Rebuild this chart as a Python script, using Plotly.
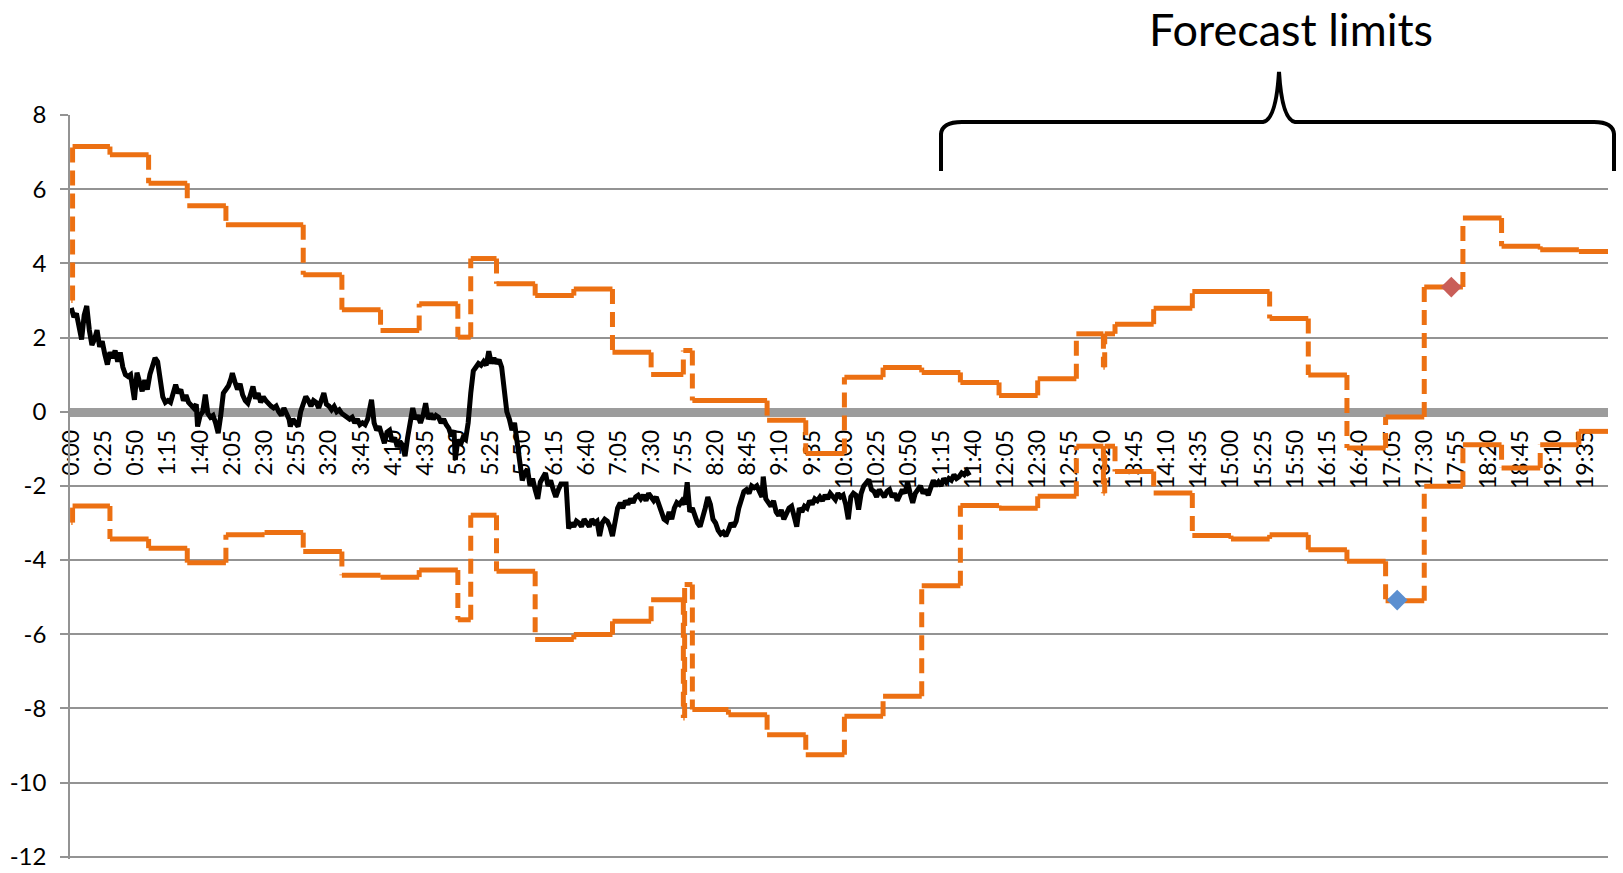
import plotly.graph_objects as go

# ---------------- data ----------------
tick_labels = ["0:00", "0:25", "0:50", "1:15", "1:40", "2:05", "2:30", "2:55", "3:20", "3:45",
               "4:10", "4:35", "5:00", "5:25", "5:50", "6:15", "6:40", "7:05", "7:30", "7:55",
               "8:20", "8:45", "9:10", "9:35", "10:00", "10:25", "10:50", "11:15", "11:40", "12:05",
               "12:30", "12:55", "13:20", "13:45", "14:10", "14:35", "15:00", "15:25", "15:50", "16:15",
               "16:40", "17:05", "17:30", "17:55", "18:20", "18:45", "19:10", "19:35"]
y_ticks = [8, 6, 4, 2, 0, -2, -4, -6, -8, -10, -12]
y_tick_labels = ["8", "6", "4", "2", "0", "-2", "-4", "-6", "-8", "-10", "-12"]

# step limits: start minute of each level and its value
upper_start = [0, 1, 30, 60, 90, 120, 180, 210, 240, 270, 300, 310, 330, 360, 390, 420, 450, 475, 482,
               540, 570, 600, 630, 660, 690, 720, 750, 780, 801, 802, 810, 840, 870, 930, 960, 990,
               1020, 1050, 1080, 1110, 1140, 1170]
upper_value = [3.0, 7.15, 6.93, 6.16, 5.55, 5.04, 3.69, 2.75, 2.19, 2.91, 2.01, 4.13, 3.45, 3.13, 3.31,
               1.60, 1.00, 1.65, 0.30, -0.23, -1.13, 0.93, 1.19, 1.06, 0.79, 0.44, 0.89, 2.10, 1.20,
               2.10, 2.36, 2.79, 3.24, 2.51, 0.99, -0.98, -0.14, 3.36, 5.22, 4.46, 4.37, 4.32]
lower_start = [0, 1, 30, 60, 90, 120, 150, 180, 210, 240, 270, 300, 310, 330, 360, 390, 420, 450, 475,
               476, 482, 510, 540, 570, 600, 630, 660, 690, 720, 750, 780, 801, 802, 810, 840, 870,
               900, 930, 960, 990, 1020, 1050, 1080, 1110, 1140, 1170]
lower_value = [-2.99, -2.54, -3.43, -3.68, -4.07, -3.32, -3.26, -3.77, -4.41, -4.46, -4.27, -5.61,
               -2.79, -4.30, -6.14, -6.01, -5.65, -5.07, -8.26, -4.66, -8.03, -8.17, -8.71, -9.25,
               -8.21, -7.67, -4.69, -2.53, -2.60, -2.28, -0.93, -2.20, -0.93, -1.61, -2.19, -3.34,
               -3.43, -3.32, -3.72, -4.03, -5.10, -2.01, -0.89, -1.52, -0.89, -0.53]
end_minute = 1193

actual_minute = [0, 2, 4, 6, 8, 10, 12, 14, 16, 18, 20, 22, 24, 26, 28, 30, 32, 34, 36, 38, 40, 42, 44,
                 46, 48, 49, 51, 53, 55, 57, 59, 61, 63, 65, 67, 69, 71, 73, 75, 77, 79, 81, 83, 85, 87,
                 89, 91, 93, 95, 97, 98, 100, 102, 104, 106, 108, 110, 112, 114, 116, 118, 120, 122,
                 124, 125, 127, 129, 131, 133, 135, 137, 139, 141, 143, 145, 147, 149, 151, 153, 155,
                 157, 159, 161, 163, 165, 167, 169, 170, 172, 174, 176, 178, 180, 182, 184, 186, 188,
                 190, 192, 194, 196, 198, 200, 202, 204, 206, 208, 210, 212, 214, 216, 218, 220, 222,
                 224, 226, 228, 230, 233, 235, 237, 239, 241, 243, 245, 247, 249, 251, 253, 255, 257,
                 259, 261, 263, 265, 267, 269, 271, 273, 275, 277, 279, 281, 283, 285, 287, 289, 291,
                 293, 295, 297, 298, 300, 302, 304, 306, 308, 310, 312, 314, 316, 318, 320, 322, 324,
                 326, 328, 330, 332, 334, 336, 338, 340, 342, 344, 346, 348, 350, 352, 354, 356, 358,
                 360, 362, 364, 366, 368, 370, 372, 374, 376, 378, 380, 382, 384, 386, 388, 390, 392,
                 394, 396, 398, 400, 402, 404, 406, 408, 410, 412, 414, 416, 418, 420, 422, 424, 426,
                 428, 430, 432, 434, 436, 438, 440, 442, 444, 446, 448, 450, 452, 454, 456, 458, 460,
                 462, 464, 466, 468, 470, 472, 474, 476, 478, 480, 482, 484, 486, 488, 490, 492, 494,
                 496, 498, 500, 502, 504, 506, 508, 510, 512, 514, 516, 518, 520, 522, 524, 526, 528,
                 530, 532, 534, 536, 537, 539, 541, 543, 545, 547, 549, 551, 553, 555, 557, 559, 561,
                 563, 565, 567, 569, 571, 573, 575, 577, 579, 581, 583, 585, 587, 589, 591, 593, 595,
                 597, 599, 601, 603, 605, 607, 609, 611, 613, 615, 617, 619, 621, 623, 625, 627, 629,
                 631, 633, 635, 637, 639, 641, 643, 645, 647, 649, 651, 653, 655, 657, 659, 661, 663,
                 665, 667, 669, 671, 673, 675, 677, 679, 681, 683, 685, 687, 689, 691, 693, 695, 697]
actual_value = [2.80, 2.55, 2.65, 2.35, 1.95, 2.60, 2.85, 2.20, 1.80, 1.95, 2.20, 1.75, 1.90, 1.55,
                1.27, 1.60, 1.45, 1.65, 1.35, 1.60, 1.20, 1.00, 0.95, 1.00, 0.60, 0.32, 1.05, 0.75,
                0.55, 0.85, 0.60, 1.00, 1.30, 1.45, 1.35, 0.85, 0.40, 0.25, 0.30, 0.25, 0.50, 0.73,
                0.50, 0.60, 0.30, 0.45, 0.25, 0.15, 0.10, 0.20, -0.40, -0.10, 0.00, 0.46, -0.05,
                -0.15, -0.10, -0.30, -0.58, -0.10, 0.50, 0.60, 0.70, 0.90, 1.04, 0.80, 0.60, 0.75,
                0.45, 0.30, 0.23, 0.45, 0.68, 0.35, 0.50, 0.25, 0.40, 0.30, 0.20, 0.15, 0.10, 0.15,
                0.00, -0.10, 0.10, -0.05, -0.20, -0.40, -0.20, -0.30, -0.40, 0.00, 0.25, 0.41, 0.30,
                0.15, 0.30, 0.25, 0.10, 0.35, 0.50, 0.20, 0.15, 0.05, 0.14, 0.00, 0.05, -0.05, -0.10,
                -0.15, -0.20, -0.15, -0.30, -0.20, -0.35, -0.30, -0.35, -0.20, 0.32, -0.30, -0.50,
                -0.40, -0.70, -0.85, -0.55, -0.50, -0.80, -0.70, -0.95, -0.80, -0.90, -1.20, -0.70,
                -0.30, 0.10, -0.20, -0.10, -0.30, -0.10, 0.23, -0.20, -0.05, -0.20, -0.10, -0.15,
                -0.30, -0.20, -0.35, -0.45, -0.66, -0.50, -1.30, -0.75, -0.90, -0.70, -0.75, -0.30,
                0.50, 1.10, 1.20, 1.30, 1.25, 1.35, 1.25, 1.63, 1.30, 1.45, 1.30, 1.40, 1.20, 0.70,
                0.00, -0.20, -0.50, -0.30, -0.90, -1.40, -1.85, -1.65, -1.55, -2.00, -1.80, -2.10,
                -2.35, -1.90, -1.80, -1.65, -2.00, -1.85, -2.10, -2.30, -2.10, -1.95, -1.95, -1.95,
                -3.15, -3.00, -3.10, -2.95, -3.00, -3.10, -2.90, -3.00, -3.10, -2.90, -3.00, -2.95,
                -3.35, -3.00, -2.90, -2.95, -3.10, -3.35, -2.90, -2.60, -2.46, -2.60, -2.40, -2.50,
                -2.35, -2.45, -2.30, -2.25, -2.35, -2.25, -2.40, -2.20, -2.30, -2.40, -2.30, -2.50,
                -2.60, -2.90, -2.95, -2.70, -2.90, -2.60, -2.45, -2.50, -2.40, -2.50, -1.90, -2.70,
                -2.60, -2.85, -3.00, -3.10, -2.90, -2.60, -2.30, -2.50, -2.90, -3.00, -3.20, -3.30,
                -3.25, -3.35, -3.20, -3.00, -3.10, -2.95, -2.60, -2.40, -2.15, -2.10, -2.20, -2.00,
                -2.05, -2.00, -2.20, -2.30, -1.75, -2.35, -2.45, -2.55, -2.40, -2.70, -2.80, -2.65,
                -2.90, -2.75, -2.60, -2.55, -2.80, -3.10, -2.60, -2.70, -2.55, -2.60, -2.40, -2.50,
                -2.35, -2.40, -2.30, -2.40, -2.25, -2.35, -2.20, -2.30, -2.37, -2.20, -2.30, -2.25,
                -2.50, -2.90, -2.30, -2.20, -2.25, -2.64, -2.20, -2.00, -1.90, -1.83, -2.10, -2.15,
                -2.30, -2.10, -2.20, -2.30, -2.15, -2.10, -2.30, -2.20, -2.40, -2.20, -2.10, -2.20,
                -1.90, -2.20, -2.46, -2.20, -2.10, -2.00, -2.20, -2.10, -2.25, -2.00, -1.85, -2.00,
                -1.90, -2.00, -1.80, -1.90, -1.80, -1.85, -1.70, -1.80, -1.75, -1.65, -1.70, -1.60,
                -1.72]

breach_low_minute = [1029]
breach_low_value = [-5.08]
breach_high_minute = [1071]
breach_high_value = [3.36]

# ---------------- helpers ----------------
def to_minutes(label):
    h, m = label.split(":")
    return int(h) * 60 + int(m)


def step_segments(starts, values, end):
    bounds = starts[1:] + [end]
    hx, hy, vx, vy = [], [], [], []
    for i, (s, v) in enumerate(zip(starts, values)):
        hx += [s, bounds[i], None]
        hy += [v, v, None]
        if i + 1 < len(starts):
            vx += [bounds[i], bounds[i], None]
            vy += [v, values[i + 1], None]
    return hx, hy, vx, vy


ORANGE = "#EC7012"
GRID = "#939393"
FONT = "Lato"

fig = go.Figure()

for starts, vals in ((upper_start, upper_value), (lower_start, lower_value)):
    hx, hy, vx, vy = step_segments(starts, vals, end_minute)
    fig.add_trace(go.Scatter(x=vx, y=vy, mode="lines", hoverinfo="skip",
                             line=dict(color=ORANGE, width=5, dash="15px,8px")))
    fig.add_trace(go.Scatter(x=hx, y=hy, mode="lines", hoverinfo="skip",
                             line=dict(color=ORANGE, width=5)))

fig.add_trace(go.Scatter(x=actual_minute, y=actual_value, mode="lines",
                         line=dict(color="#000000", width=5)))

fig.add_trace(go.Scatter(x=breach_low_minute, y=breach_low_value, mode="markers",
                         marker=dict(symbol="diamond", size=16, color="#5B8FD0")))
fig.add_trace(go.Scatter(x=breach_high_minute, y=breach_high_value, mode="markers",
                         marker=dict(symbol="diamond", size=16, color="#C95E58")))

# Page / plot-area geometry in pixels (body margin removed by the post script)
W, H = 1623, 873
Y_RANGE = [-12.06, 8.0]
PL, PR, PT, PB = 70, 1608, 115, 859
L, R, T, B = PL, W - PR, PT, H - PB
pw, ph = PR - PL, PB - PT


def px(x, y):
    """page pixel -> paper fraction"""
    return (x - PL) / pw, (PB - y) / ph


pts = {
    "a": px(941, 171), "b": px(941, 134), "c": px(942, 122), "d": px(962, 122),
    "e": px(1263, 122), "f": px(1276, 120), "g": px(1279, 72),
    "h": px(1282, 120), "i": px(1295, 122), "j": px(1594, 122),
    "k": px(1613, 122), "l": px(1614, 134), "m": px(1614, 171),
}
P = {k: f"{v[0]:.5f},{v[1]:.5f}" for k, v in pts.items()}
brace = (f"M {P['a']} L {P['b']} Q {P['c']} {P['d']} L {P['e']} Q {P['f']} {P['g']} "
         f"Q {P['h']} {P['i']} L {P['j']} Q {P['k']} {P['l']} L {P['m']}")
fig.add_shape(type="path", path=brace, xref="paper", yref="paper",
              line=dict(color="#000000", width=4))

fig.add_annotation(text="Forecast limits", xref="paper", yref="paper",
                   x=px(1291, 0)[0], y=px(0, 29)[1], xanchor="center", yanchor="middle",
                   showarrow=False, borderpad=0,
                   font=dict(family=FONT, size=45, color="#000000"))

tick_minutes = [to_minutes(t) for t in tick_labels]
zero_pos = (0 - Y_RANGE[0]) / (Y_RANGE[1] - Y_RANGE[0])

fig.update_layout(
    width=W, height=H,
    margin=dict(l=L, r=R, t=T, b=B, autoexpand=False),
    paper_bgcolor="white", plot_bgcolor="white",
    showlegend=False,
    font=dict(family=FONT, size=23, color="#000000"),
    xaxis=dict(range=[-1, 1192.6], tickmode="array", tickvals=tick_minutes, ticktext=tick_labels,
               tickangle=-90, showgrid=False, zeroline=False, anchor="free", position=zero_pos,
               showline=True, linecolor="#9c9c9c", linewidth=9, ticks="", automargin=False,
               ticklabelstandoff=4, layer="below traces",
               tickfont=dict(family=FONT, size=23, color="#000000")),
    yaxis=dict(range=Y_RANGE, tickmode="array", tickvals=y_ticks, ticktext=y_tick_labels,
               showgrid=True, gridcolor=GRID, gridwidth=1.5, zeroline=False, showline=True,
               linecolor=GRID, linewidth=1.5, ticks="outside", ticklen=8, tickcolor=GRID,
               tickwidth=1.5, ticklabelstandoff=9, automargin=False, ticklabeloverflow="allow",
               tickfont=dict(family=FONT, size=24, color="#000000")),
)

fig.write_html("out.html", config={"displayModeBar": False},
               post_script="document.body.style.margin='0';")
